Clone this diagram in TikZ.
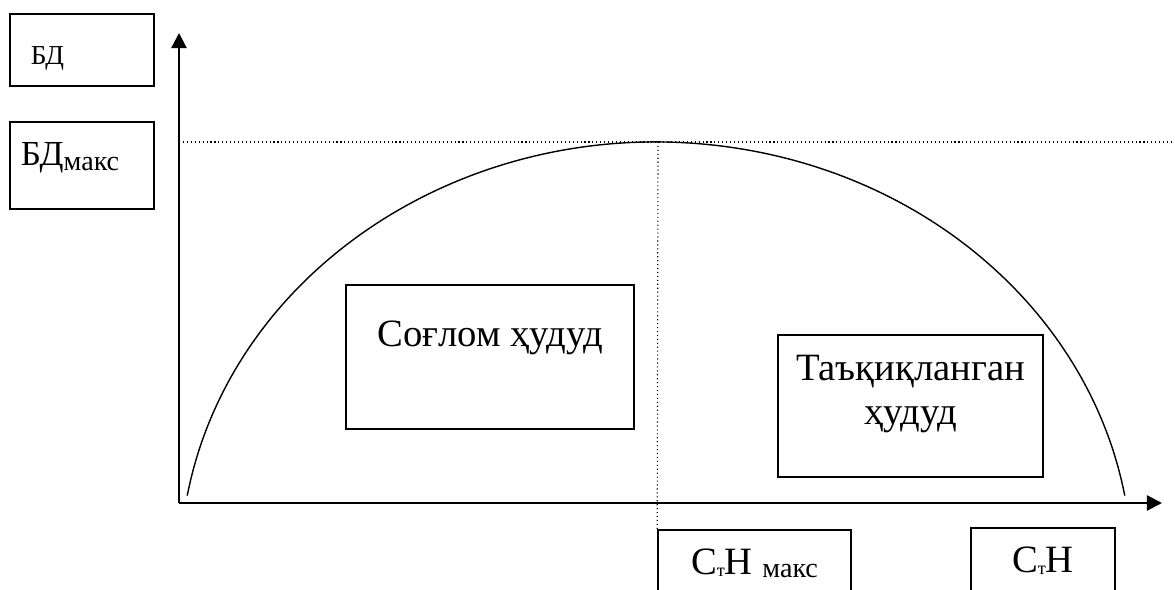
\documentclass[tikz,border=0pt]{standalone}
\usepackage{fontspec}
\setmainfont{Liberation Serif}
\usetikzlibrary{calc,arrows.meta}
\def\ellarc[#1](#2)(#3:#4:#5:#6){\draw[#1] ($(#2)+({#5*cos(#3)},{#6*sin(#3)})$) arc[start angle=#3, end angle=#4, x radius=#5, y radius=#6];}
\def\lowtxt[#1](#2)#3{\raisebox{#2}{\fontsize{#1}{#1}\selectfont #3}}

\begin{document}
\begin{tikzpicture}[
	box/.style={draw, line width=1.1pt, inner sep=0pt, font=\fontsize{27.5pt}{32pt}\selectfont},
	axis/.style={line width=1.6pt, -{Triangle[length=0.38cm, width=0.38cm]}},
	guide/.style={dotted, line width=0.8pt}]
	%%%%% START %%%%%
	\useasboundingbox (-4.475, -2.175) rectangle (24.9, 12.575);
	
	\coordinate (O) at (0, 0);
	\coordinate (ytip) at (0, 11.75);
	\coordinate (xtip) at (24.575, 0);
	\coordinate (peak) at (11.975, 9.025);
	\coordinate (bdend) at (24.9, 9.025);
	\coordinate (ctr) at (11.925, -1.675);
	
	\node[box, minimum width=3.6cm, minimum height=1.8cm, text height=0.75cm, text depth=0cm, font=\fontsize{19.5pt}{22pt}\selectfont] (bd) at (-2.425, 11.325) {БД\hspace*{1.725cm}};
	\node[box, minimum width=3.6cm, minimum height=2.175cm, text height=0.55cm, text depth=0.55cm, font=\fontsize{25pt}{28pt}\selectfont] (bdmax) at (-2.425, 8.4375) {БД\lowtxt[20pt](-3.5pt){макс}\hspace*{0.6cm}};
	
	\node[box, minimum width=7.2cm, minimum height=3.6cm, text height=0.7cm, text depth=1.2cm] (healthy) at (7.775, 3.65) {Соғлом ҳудуд};
	\node[box, minimum width=6.625cm, minimum height=3.55cm, align=center, text height=1.825cm, text depth=0.875cm] (banned) at (18.2875, 2.425) {Таъқиқланган\\ ҳудуд};
	
	\node[box, minimum width=4.825cm, minimum height=1.6cm, text height=0.65cm, text depth=0cm] (stnmax) at (14.3875, -1.475) {С\lowtxt[13pt](-1pt){т}Н \lowtxt[20pt](-2pt){макс}};
	\node[box, minimum width=3.6cm, minimum height=1.6cm, text height=0.65cm, text depth=0cm] (stn) at (21.6, -1.425) {С\lowtxt[13pt](-1pt){т}Н};
	
	\draw[axis] (O) -- (ytip);
	\draw[axis] (O) -- (xtip);
	
	\draw[guide] (O |- peak) -- (bdend);
	\draw[guide] (peak) -- (stnmax.north west);
	
	\ellarc[line width=1pt](ctr)(170:10:11.9:10.7);
	%%%%% END %%%%%
\end{tikzpicture}
\end{document}
